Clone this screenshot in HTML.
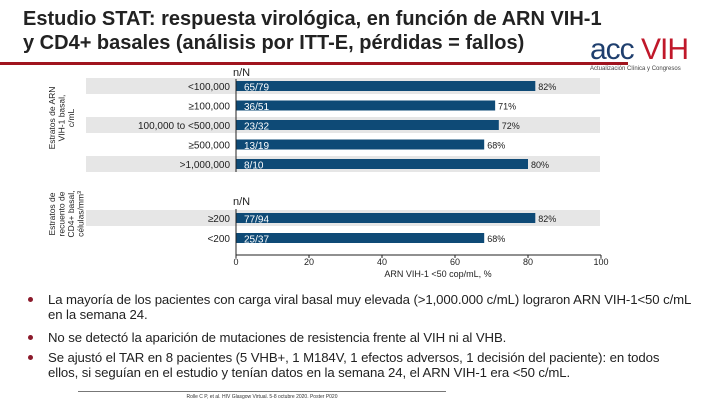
<!DOCTYPE html>
<html><head><meta charset="utf-8"><style>
body{margin:0;width:720px;height:405px;overflow:hidden;background:#fff;font-family:"Liberation Sans",sans-serif;position:relative}
.abs{position:absolute}
.title{left:23px;top:7px;font-size:20px;font-weight:bold;line-height:24px;color:#222}
.bl{left:48px;font-size:13.2px;line-height:15px;color:#222;letter-spacing:-0.1px;white-space:nowrap}
.dot{left:28px;width:5px;height:5px;border-radius:3px;background:#8b1a2b}
</style></head><body>
<div class="abs title">Estudio STAT: respuesta virológica, en función de ARN VIH-1<br>y CD4+ basales (análisis por ITT-E, pérdidas = fallos)</div>
<div class="abs" style="left:0;top:62px;width:628px;height:3px;background:#a0141e"></div>
<div class="abs" style="left:590px;top:36px;width:120px;">
<div style="font-size:30px;line-height:28px;letter-spacing:-1px"><span style="color:#1f3f6e">acc</span> <span style="color:#c0182a">VIH</span></div>
<div style="font-size:6px;color:#444;margin-top:2px">Actualización Clínica y Congresos</div></div>
<svg class="abs" style="left:0;top:0" width="720" height="405">
<g id="g"></g></svg>
<div class="abs dot" style="top:297px"></div>
<div class="abs bl" style="top:292px">La mayoría de los pacientes con carga viral basal muy elevada (>1,000.000 c/mL) lograron ARN VIH-1&lt;50 c/mL<br>en la semana 24.</div>
<div class="abs dot" style="top:335px"></div>
<div class="abs bl" style="top:330px">No se detectó la aparición de mutaciones de resistencia frente al VIH ni al VHB.</div>
<div class="abs dot" style="top:355px"></div>
<div class="abs bl" style="top:350px">Se ajustó el TAR en 8 pacientes (5 VHB+, 1 M184V, 1 efectos adversos, 1 decisión del paciente): en todos<br>ellos, si seguían en el estudio y tenían datos en la semana 24, el ARN VIH-1 era &lt;50 c/mL.</div>
<div class="abs" style="left:78px;top:391px;width:368px;height:1px;background:#777"></div>
<div class="abs" style="left:78px;width:368px;top:394px;font-size:5px;text-align:center;color:#333">Rolle C P, et al. HIV Glasgow Virtual. 5-8 octubre 2020. Poster P020</div>
<script>
const cats1=["<100,000","≥100,000","100,000 to <500,000","≥500,000",">1,000,000"];
const nN1=["65/79","36/51","23/32","13/19","8/10"];
const vals1=[82,71,72,68,80];
const cats2=["≥200","<200"];
const nN2=["77/94","25/37"];
const vals2=[82,68];
const ticks=[0,20,40,60,80,100];
const NS="http://www.w3.org/2000/svg",g=document.getElementById('g');
const x=v=>236+v*3.65;
function el(t,a,txt){const e=document.createElementNS(NS,t);for(const k in a)e.setAttribute(k,a[k]);if(txt!=null)e.textContent=txt;g.appendChild(e);return e;}
function group(cats,nN,vals,y0,step,name){
 cats.forEach((c,i)=>{const yc=y0+i*step;
  if(i%2===0){const b=el('rect',{x:86,y:yc-8,width:514,height:16,fill:'#e6e6e6'});
  }
  const r=el('rect',{x:x(0),y:yc-5,width:x(vals[i])-x(0),height:10,fill:'#0e4a76'});
  
  const l=el('text',{x:230,y:yc+4,'font-size':10,'text-anchor':'end',fill:'#222'},c);
  
  const n=el('text',{x:x(0)+8,y:yc+4.5,'font-size':10,fill:'#fff'},nN[i]);
  
  const p=el('text',{x:x(vals[i])+3,y:yc+4,'font-size':9,fill:'#222'},vals[i]+'%');
  
 });
}
group(cats1,nN1,vals1,86,19.5,'rna');
group(cats2,nN2,vals2,218,20,'cd4');
let a=el('line',{x1:236,x2:236,y1:79,y2:172,stroke:'#222'});
a=el('line',{x1:236,x2:236,y1:209,y2:255,stroke:'#222'});
a=el('line',{x1:236,x2:601,y1:255,y2:255,stroke:'#222'});
ticks.forEach(t=>{el('line',{x1:x(t),x2:x(t),y1:255,y2:258,stroke:'#222'});
 const tl=el('text',{x:x(t),y:265,'font-size':9,'text-anchor':'middle',fill:'#222'},t);
 });
a=el('text',{x:438,y:277,'font-size':9,'text-anchor':'middle',fill:'#222'},'ARN VIH-1 <50 cop/mL, %');
a=el('text',{x:233,y:76,'font-size':11,fill:'#222'},'n/N');
a=el('text',{x:233,y:205,'font-size':11,fill:'#222'},'n/N');
const yl=(lines,cx,cy,name)=>{lines.forEach((s,i)=>{const t=el('text',{x:0,y:0,'font-size':8.5,'text-anchor':'middle',fill:'#222',transform:`translate(${cx+i*9.5},${cy}) rotate(-90)`},s);});};
yl(['Estratos de ARN','VIH-1 basal,','c/mL'],55,118,'y-group-title-rna');
yl(['Estratos de','recuento de','CD4+ basal,','células/mm³'],55,214,'y-group-title-cd4');
</script>
</body></html>
